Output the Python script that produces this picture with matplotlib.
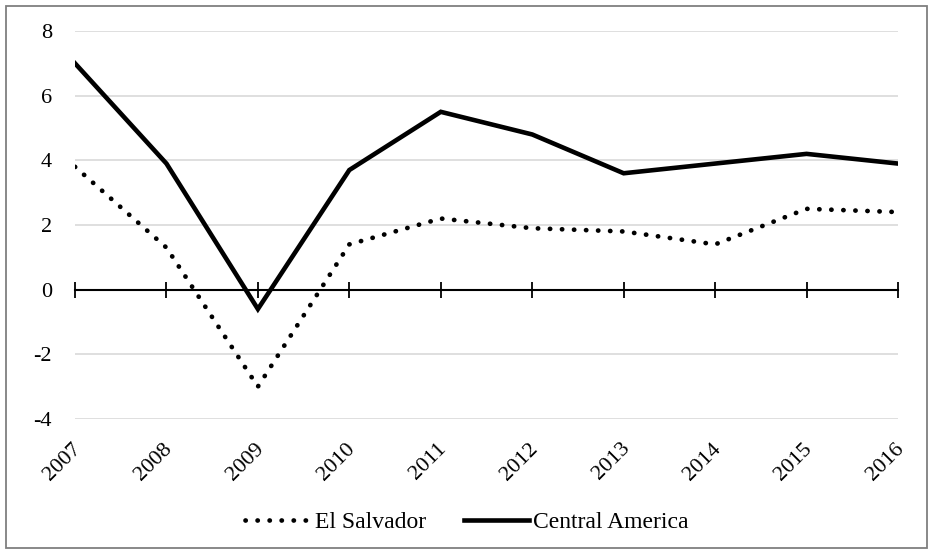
import numpy as np
import matplotlib
matplotlib.use("Agg")
import matplotlib.pyplot as plt
from matplotlib.patches import Rectangle

years = [2007, 2008, 2009, 2010, 2011, 2012, 2013, 2014, 2015, 2016]
el_salvador = [3.8, 1.3, -3.0, 1.4, 2.2, 1.9, 1.8, 1.4, 2.5, 2.4]
central_america = [7.0, 3.9, -0.6, 3.7, 5.5, 4.8, 3.6, 3.9, 4.2, 3.9]
yticks = [-4, -2, 0, 2, 4, 6, 8]

plt.rcParams["font.family"] = ["Liberation Serif", "DejaVu Serif"]
plt.rcParams["font.size"] = 16

fig = plt.figure(figsize=(9.33, 5.54), dpi=100)
ax = fig.add_axes([75 / 933, 1 - 419 / 554, (898 - 75) / 933, (419 - 31) / 554])

# dotted series: round dots ~5px wide, ~12px apart
ax.plot(years, el_salvador, color="black", lw=3.4, ls=(0, (0.05, 2.5)),
        dash_capstyle="round", solid_capstyle="round", label="El Salvador", zorder=3)
ax.plot(years, central_america, color="black", lw=3.3, solid_joinstyle="miter",
        label="Central America", zorder=4)

ax.set_xlim(years[0], years[-1])
ax.set_ylim(-4, 8)
ax.set_yticks(yticks)
ax.set_yticklabels([str(v) for v in yticks])
ax.grid(axis="y", color="#d9d9d9", lw=1.2, zorder=0)
ax.set_axisbelow(True)
for s in ("top", "right", "left"):
    ax.spines[s].set_visible(False)
ax.spines["bottom"].set_position(("data", 0))
ax.spines["bottom"].set_linewidth(1.5)
ax.spines["bottom"].set_zorder(2)
ax.set_xticks(years)
ax.tick_params(axis="x", direction="inout", length=11, width=1.3, labelbottom=False)
ax.tick_params(axis="y", length=0, pad=16.5)

# year labels sit below the plot, rotated 45 degrees
for yr in years:
    ax.text(yr - 0.04, -0.052, str(yr), transform=ax.get_xaxis_transform(),
            rotation=45, ha="right", va="top", rotation_mode="anchor")

leg = ax.legend(loc="center", bbox_to_anchor=(467 / 933, 1 - 522 / 554),
                bbox_transform=fig.transFigure, ncol=2, frameon=False,
                handlelength=2.75, columnspacing=1.6, handletextpad=0.2,
                fontsize=17)

fig.patches.append(Rectangle((6 / 933, 6 / 554), 921 / 933, 542 / 554,
                             transform=fig.transFigure, fill=False,
                             edgecolor="#7f7f7f", lw=1.3))

fig.savefig("out.png", dpi=100)
